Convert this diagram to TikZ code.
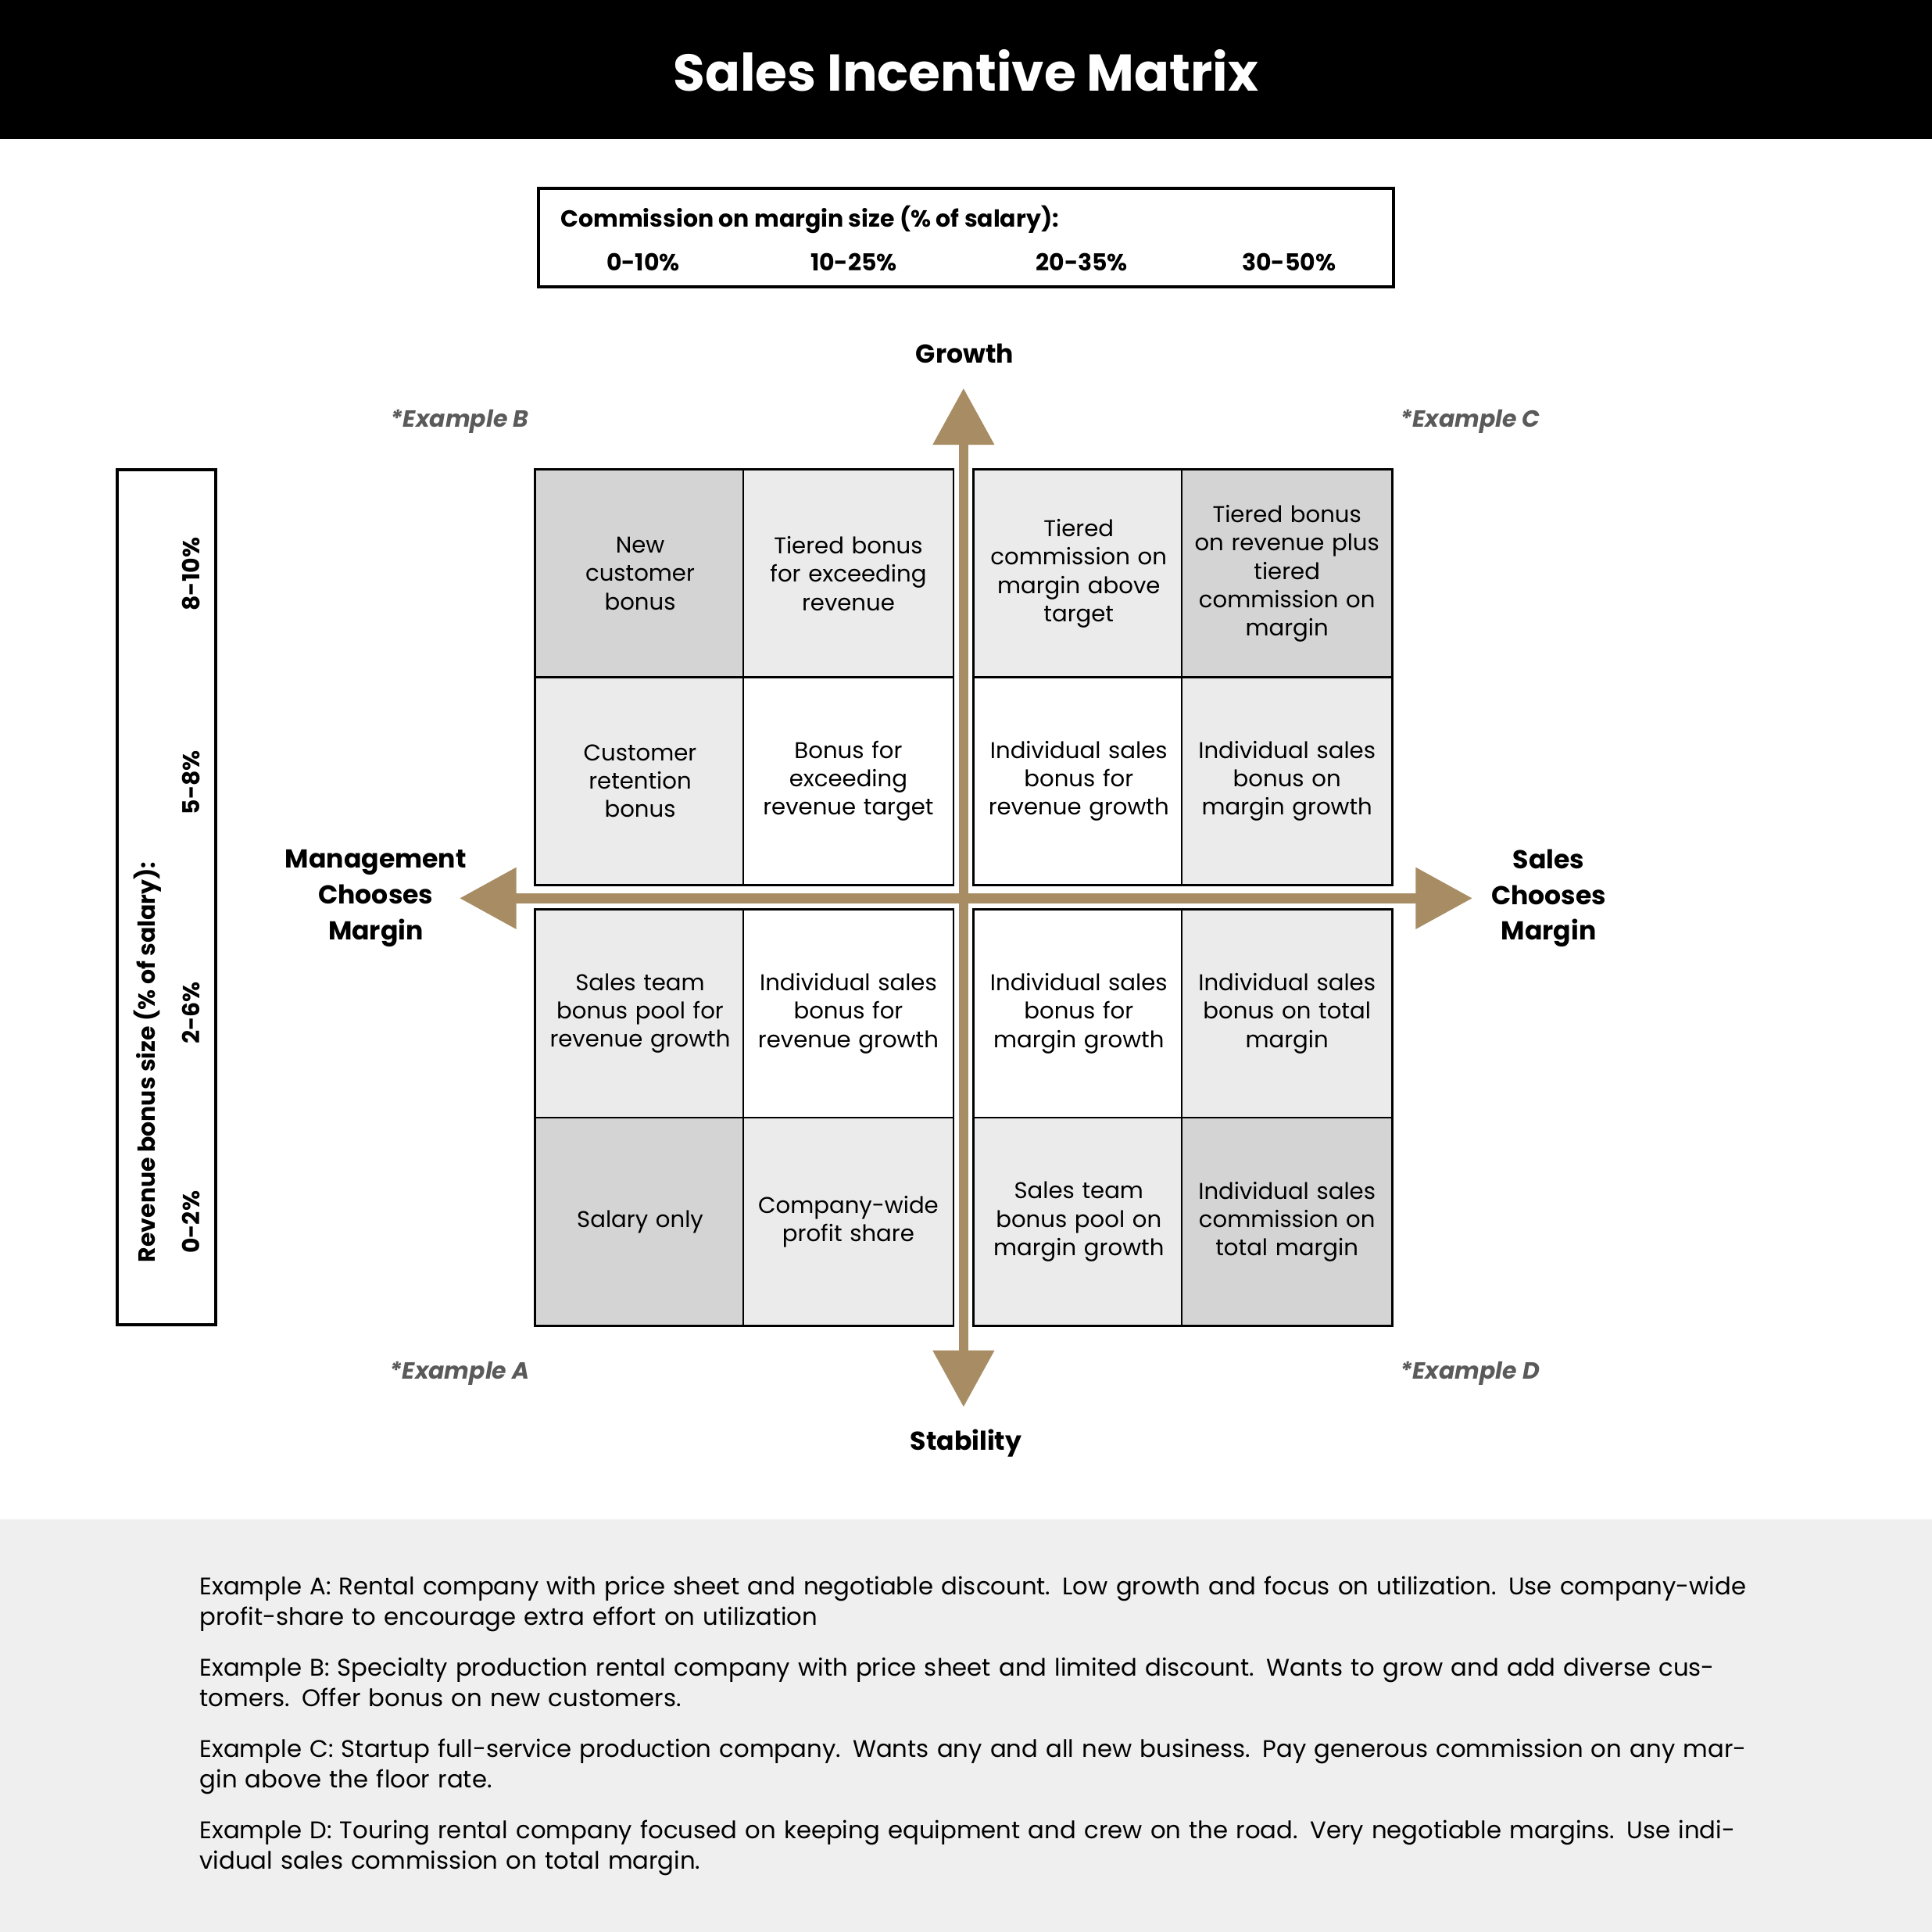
\documentclass[tikz,border=0pt]{standalone}
\usepackage{fontspec}
\setmainfont{Poppins}
\usetikzlibrary{arrows.meta}
\definecolor{brn}{HTML}{A88D64}
\definecolor{dk}{HTML}{D4D4D4}
\definecolor{lt}{HTML}{EBEBEB}
\definecolor{band}{HTML}{EFEFEF}
\definecolor{exg}{HTML}{5A5A5A}
\begin{document}
\begin{tikzpicture}[x=1pt,y=-1pt,
  cell/.style={draw,line width=1.6pt,minimum width=169pt,minimum height=169pt,align=center,text width=164pt,font=\fontsize{18.5}{23}\selectfont},
  ex/.style={font=\fontsize{19}{23}\selectfont\itshape\bfseries,text=exg},
  lab/.style={font=\fontsize{21}{29}\selectfont\bfseries,align=center},
  para/.style={anchor=north west,text width=1260pt,align=left,font=\fontsize{19.5}{25}\selectfont,inner sep=0pt}]
\useasboundingbox (0,0) rectangle (1568,1568);
\fill[black] (0,0) rectangle (1568,113);
\node[text=white,font=\fontsize{42}{50}\selectfont\bfseries] (title) at (784,57) {Sales Incentive Matrix};
\fill[band] (0,1233) rectangle (1568,1568);
% commission box
\draw[line width=2.5pt] (437,153) rectangle (1131,233);
\node[anchor=west,font=\fontsize{19}{23}\selectfont\bfseries,inner sep=0pt] (ct) at (455,178) {Commission on margin size (\% of salary):};
\foreach \x/\t/\n in {522/0-10\%/c1,693/10-25\%/c2,878/20-35\%/c3,1046/30-50\%/c4}
  \node[font=\fontsize{19}{23}\selectfont\bfseries] (\n) at (\x,213) {\t};
% left box
\draw[line width=2.5pt] (95,381) rectangle (175,1075);
\node[rotate=90,font=\fontsize{19}{23}\selectfont\bfseries] (rv) at (120,862) {Revenue bonus size (\% of salary):};
\foreach \y/\t/\n in {466/8-10\%/r1,635/5-8\%/r2,822/2-6\%/r3,992/0-2\%/r4}
  \node[rotate=90,font=\fontsize{19}{23}\selectfont\bfseries] (\n) at (155,\y) {\t};
% cells
\node[cell,fill=dk] (a1) at (519.5,465.5) {New\\customer\\bonus};
\node[cell,fill=lt] (a2) at (688.5,465.5) {Tiered bonus\\for exceeding\\revenue};
\node[cell,fill=lt] (a3) at (875.5,465.5) {Tiered\\commission on\\margin above\\target};
\node[cell,fill=dk] (a4) at (1044.5,465.5) {Tiered bonus\\on revenue plus\\tiered\\commission on\\margin};
\node[cell,fill=lt] (b1) at (519.5,634) {Customer\\retention\\bonus};
\node[cell,fill=white] (b2) at (688.5,634) {Bonus for\\exceeding\\revenue target};
\node[cell,fill=white] (b3) at (875.5,634) {Individual sales\\bonus for\\revenue growth};
\node[cell,fill=lt] (b4) at (1044.5,634) {Individual sales\\bonus on\\margin growth};
\node[cell,fill=lt] (c1c) at (519.5,822.5) {Sales team\\bonus pool for\\revenue growth};
\node[cell,fill=white] (c2c) at (688.5,822.5) {Individual sales\\bonus for\\revenue growth};
\node[cell,fill=white] (c3c) at (875.5,822.5) {Individual sales\\bonus for\\margin growth};
\node[cell,fill=lt] (c4c) at (1044.5,822.5) {Individual sales\\bonus on total\\margin};
\node[cell,fill=dk] (d1) at (519.5,991.5) {Salary only};
\node[cell,fill=lt] (d2) at (688.5,991.5) {Company-wide\\profit share};
\node[cell,fill=lt] (d3) at (875.5,991.5) {Sales team\\bonus pool on\\margin growth};
\node[cell,fill=dk] (d4) at (1044.5,991.5) {Individual sales\\commission on\\total margin};
% arrows
\coordinate (gt) at (782,315);
\coordinate (gb) at (782,1142);
\coordinate (ml) at (373,729);
\coordinate (mr) at (1195,729);
\draw[brn,line width=8pt,{Triangle[length=46pt,width=48pt]}-{Triangle[length=46pt,width=48pt]}] (gt) -- (gb);
\draw[brn,line width=8pt,{Triangle[length=46pt,width=48pt]}-{Triangle[length=46pt,width=48pt]}] (ml) -- (mr);
% labels
\node[lab] (growth) at (783,287) {Growth};
\node[lab] (stab) at (784,1171) {Stability};
\node[lab] (mgmt) at (305,729) {Management\\Chooses\\Margin};
\node[lab] (sales) at (1257,729) {Sales\\Chooses\\Margin};
\node[ex] (exb) at (373,342) {*Example B};
\node[ex] (exc) at (1193,342) {*Example C};
\node[ex] (exa) at (373,1115) {*Example A};
\node[ex] (exd) at (1193,1115) {*Example D};
% paragraphs
\node[para] (pa) at (162,1279) {Example A: Rental company with price sheet and negotiable discount. Low growth and focus on utilization. Use company-wide profit-share to encourage extra effort on utilization};
\node[para] (pb) at (162,1345) {Example B: Specialty production rental company with price sheet and limited discount. Wants to grow and add diverse customers. Offer bonus on new customers.};
\node[para] (pc) at (162,1411) {Example C: Startup full-service production company. Wants any and all new business. Pay generous commission on any margin above the floor rate.};
\node[para] (pd) at (162,1477) {Example D: Touring rental company focused on keeping equipment and crew on the road. Very negotiable margins. Use individual sales commission on total margin.};
\end{tikzpicture}
\end{document}
